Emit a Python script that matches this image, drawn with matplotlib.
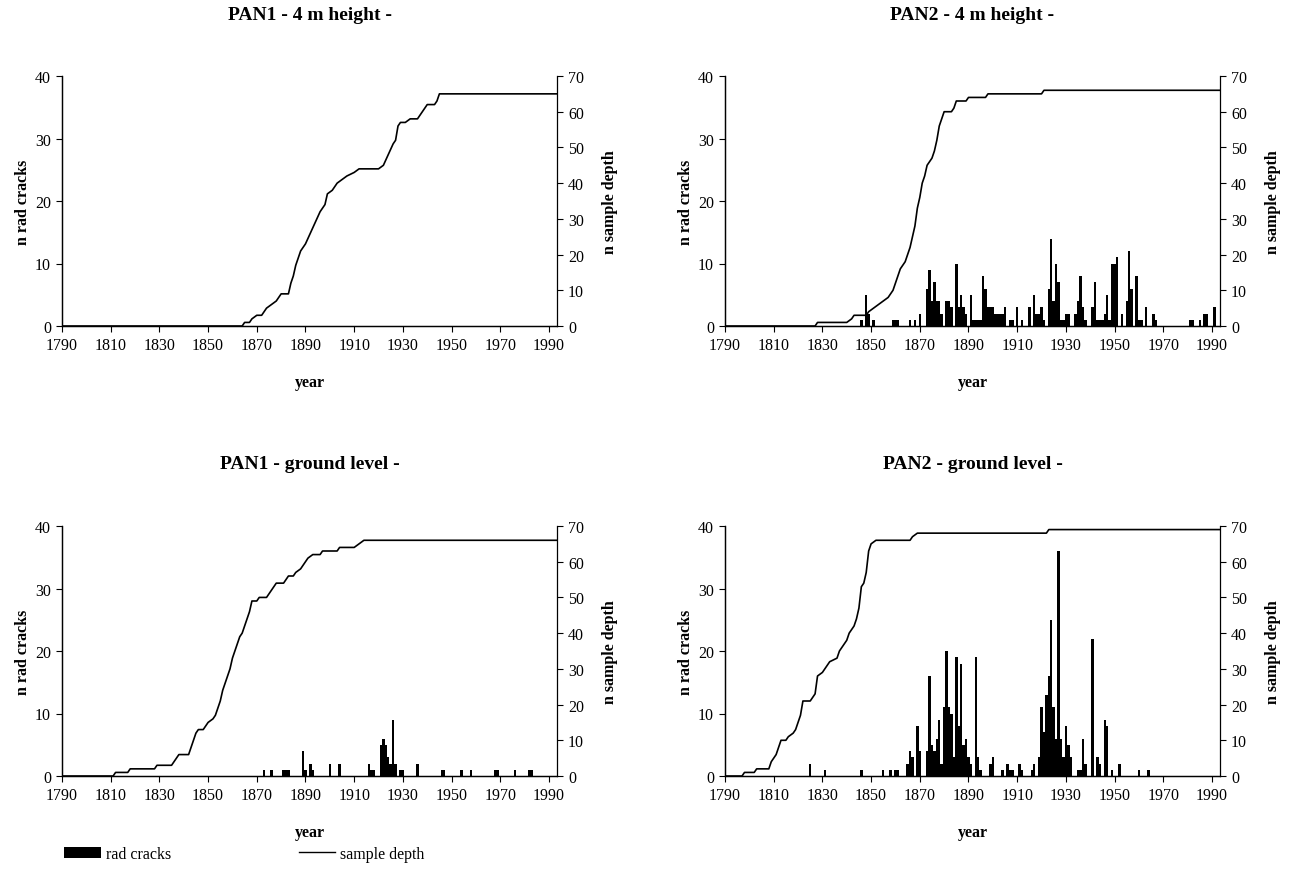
import numpy as np
import matplotlib.pyplot as plt
from matplotlib.patches import Patch
from matplotlib.lines import Line2D

plt.rcParams["font.family"] = ["Liberation Serif", "DejaVu Serif"]

# ---- PAN1 - 4 m height - (no cracks recorded)
pan1_4m_crack_years = []
pan1_4m_cracks = []
pan1_4m_depth_years = [1790, 1864, 1865, 1867, 1868, 1870, 1872, 1874, 1876, 1878, 1880, 1883,
                       1884, 1885, 1886, 1887, 1888, 1890, 1892, 1894, 1896, 1898, 1899, 1901,
                       1903, 1905, 1907, 1910, 1912, 1920, 1922, 1924, 1926, 1927, 1928, 1929,
                       1931, 1933, 1936, 1937, 1938, 1940, 1943, 1944, 1945, 1993.3]
pan1_4m_depth = [0, 0, 1, 1, 2, 3, 3, 5, 6, 7, 9, 9,
                 12, 14, 17, 19, 21, 23, 26, 29, 32, 34, 37, 38,
                 40, 41, 42, 43, 44, 44, 45, 48, 51, 52, 56, 57,
                 57, 58, 58, 59, 60, 62, 62, 63, 65, 65]

# ---- PAN2 - 4 m height -
pan2_4m_crack_years = [1846, 1848, 1849, 1851, 1859, 1860, 1861, 1866, 1868, 1870, 1873, 1874,
                       1875, 1876, 1877, 1878, 1879, 1881, 1882, 1883, 1885, 1886, 1887, 1888,
                       1889, 1891, 1892, 1893, 1894, 1895, 1896, 1897, 1898, 1899, 1900, 1901,
                       1902, 1903, 1904, 1905, 1907, 1908, 1910, 1912, 1915, 1917, 1918, 1919,
                       1920, 1921, 1923, 1924, 1925, 1926, 1927, 1928, 1929, 1930, 1931, 1934,
                       1935, 1936, 1937, 1938, 1941, 1942, 1943, 1944, 1945, 1946, 1947, 1948,
                       1949, 1950, 1951, 1953, 1955, 1956, 1957, 1959, 1960, 1961, 1963, 1966,
                       1967, 1981, 1982, 1985, 1987, 1988, 1991]
pan2_4m_cracks = [1, 5, 2, 1, 1, 1, 1, 1, 1, 2, 6, 9,
                  4, 7, 4, 4, 2, 4, 4, 3, 10, 3, 5, 3,
                  2, 5, 1, 1, 1, 1, 8, 6, 3, 3, 3, 2,
                  2, 2, 2, 3, 1, 1, 3, 1, 3, 5, 2, 2,
                  3, 1, 6, 14, 4, 10, 7, 1, 1, 2, 2, 2,
                  4, 8, 3, 1, 3, 7, 1, 1, 1, 2, 5, 1,
                  10, 10, 11, 2, 4, 12, 6, 8, 1, 1, 3, 2,
                  1, 1, 1, 1, 2, 2, 3]
pan2_4m_depth_years = [1790, 1827, 1828, 1840, 1842, 1843, 1848, 1849, 1851, 1853, 1855, 1857,
                       1859, 1860, 1862, 1864, 1866, 1867, 1868, 1869, 1870, 1871, 1872, 1873,
                       1875, 1876, 1877, 1878, 1879, 1880, 1883, 1884, 1885, 1889, 1890, 1897,
                       1898, 1920, 1921, 1993.3]
pan2_4m_depth = [0, 0, 1, 1, 2, 3, 3, 4, 5, 6, 7, 8,
                 10, 12, 16, 18, 22, 25, 28, 33, 36, 40, 42, 45,
                 47, 49, 52, 56, 58, 60, 60, 61, 63, 63, 64, 64,
                 65, 65, 66, 66]

# ---- PAN1 - ground level -
pan1_gl_crack_years = [1873, 1876, 1881, 1882, 1883, 1889, 1890, 1892, 1893, 1900, 1904, 1916,
                       1917, 1918, 1921, 1922, 1923, 1924, 1925, 1926, 1927, 1929, 1930, 1936,
                       1946, 1947, 1954, 1958, 1968, 1969, 1976, 1982, 1983]
pan1_gl_cracks = [1, 1, 1, 1, 1, 4, 1, 2, 1, 2, 2, 2,
                  1, 1, 5, 6, 5, 3, 2, 9, 2, 1, 1, 2,
                  1, 1, 1, 1, 1, 1, 1, 1, 1]
pan1_gl_depth_years = [1790, 1811, 1812, 1817, 1818, 1828, 1829, 1835, 1836, 1837, 1838, 1842,
                       1843, 1844, 1845, 1846, 1848, 1849, 1850, 1852, 1853, 1854, 1855, 1856,
                       1857, 1858, 1859, 1860, 1861, 1862, 1863, 1864, 1865, 1866, 1867, 1868,
                       1870, 1871, 1874, 1875, 1876, 1877, 1878, 1881, 1882, 1883, 1885, 1886,
                       1888, 1889, 1890, 1891, 1893, 1896, 1897, 1903, 1904, 1910, 1912, 1914,
                       1993.3]
pan1_gl_depth = [0, 0, 1, 1, 2, 2, 3, 3, 4, 5, 6, 6,
                 8, 10, 12, 13, 13, 14, 15, 16, 17, 19, 21, 24,
                 26, 28, 30, 33, 35, 37, 39, 40, 42, 44, 46, 49,
                 49, 50, 50, 51, 52, 53, 54, 54, 55, 56, 56, 57,
                 58, 59, 60, 61, 62, 62, 63, 63, 64, 64, 65, 66,
                 66]

# ---- PAN2 - ground level -
pan2_gl_crack_years = [1825, 1831, 1846, 1855, 1858, 1860, 1861, 1865, 1866, 1867, 1869, 1870,
                       1873, 1874, 1875, 1876, 1877, 1878, 1879, 1880, 1881, 1882, 1883, 1884,
                       1885, 1886, 1887, 1888, 1889, 1890, 1891, 1893, 1894, 1895, 1899, 1900,
                       1904, 1906, 1907, 1908, 1911, 1912, 1916, 1917, 1919, 1920, 1921, 1922,
                       1923, 1924, 1925, 1926, 1927, 1928, 1929, 1930, 1931, 1932, 1935, 1936,
                       1937, 1938, 1941, 1943, 1944, 1946, 1947, 1949, 1952, 1960, 1964]
pan2_gl_cracks = [2, 1, 1, 1, 1, 1, 1, 2, 4, 3, 8, 4,
                  4, 16, 5, 4, 6, 9, 2, 11, 20, 11, 10, 3,
                  19, 8, 18, 5, 6, 3, 2, 19, 3, 1, 2, 3,
                  1, 2, 1, 1, 2, 1, 1, 2, 3, 11, 7, 13,
                  16, 25, 11, 6, 36, 6, 3, 8, 5, 3, 1, 1,
                  6, 2, 22, 3, 2, 9, 8, 1, 2, 1, 1]
pan2_gl_depth_years = [1790, 1797, 1798, 1802, 1803, 1808, 1809, 1810, 1811, 1812, 1813, 1815,
                       1816, 1818, 1819, 1820, 1821, 1822, 1825, 1826, 1827, 1828, 1830, 1831,
                       1832, 1833, 1836, 1837, 1838, 1840, 1841, 1843, 1844, 1845, 1846, 1847,
                       1848, 1849, 1850, 1852, 1866, 1867, 1869, 1922, 1923, 1993.3]
pan2_gl_depth = [0, 0, 1, 1, 2, 2, 4, 5, 6, 8, 10, 10,
                 11, 12, 13, 15, 17, 21, 21, 22, 23, 28, 29, 30,
                 31, 32, 33, 35, 36, 38, 40, 42, 44, 47, 53, 54,
                 57, 63, 65, 66, 66, 67, 68, 68, 69, 69]

panels = [
    ("PAN1 - 4 m height -", pan1_4m_crack_years, pan1_4m_cracks, pan1_4m_depth_years, pan1_4m_depth),
    ("PAN2 - 4 m height -", pan2_4m_crack_years, pan2_4m_cracks, pan2_4m_depth_years, pan2_4m_depth),
    ("PAN1 - ground level -", pan1_gl_crack_years, pan1_gl_cracks, pan1_gl_depth_years, pan1_gl_depth),
    ("PAN2 - ground level -", pan2_gl_crack_years, pan2_gl_cracks, pan2_gl_depth_years, pan2_gl_depth),
]

W, H = 1289, 895
fig = plt.figure(figsize=(W / 100, H / 100), dpi=100)

# pixel positions of each plot box (left, top)
boxes = [(62, 77), (725, 77), (62, 527), (725, 527)]
bw, bh = 495, 250

for (title, cy, cv, dy, dv), (x0, y0) in zip(panels, boxes):
    ax = fig.add_axes([x0 / W, 1 - (y0 + bh) / H, bw / W, bh / H])
    ax2 = ax.twinx()
    ax.bar(cy, cv, width=1.0, color="black", linewidth=0)
    ax2.plot(dy, dv, color="black", linewidth=1.2)

    ax.set_xlim(1790, 1993.3)
    ax.set_ylim(0, 40)
    ax2.set_ylim(0, 70)
    ax.set_xticks(np.arange(1790, 1991, 20))
    ax.set_yticks(np.arange(0, 41, 10))
    ax2.set_yticks(np.arange(0, 71, 10))

    for a in (ax, ax2):
        a.spines["top"].set_visible(False)
        for s in a.spines.values():
            s.set_linewidth(0.9)
        a.tick_params(direction="out", length=4, width=0.8, labelsize=11.5, pad=4)
    ax.spines["right"].set_visible(False)

    ax.set_xlabel("year", fontsize=11.5, fontweight="bold", labelpad=15)
    ax.set_ylabel("n rad cracks", fontsize=11.5, fontweight="bold", labelpad=3)
    ax2.set_ylabel("n sample depth", fontsize=11.5, fontweight="bold", labelpad=13)

    fig.text((x0 + bw / 2) / W, 1 - (y0 - 62) / H, title, ha="center", va="center",
             fontsize=14, fontweight="bold")

handles = [Patch(facecolor="black", edgecolor="none"), Line2D([0], [0], color="black", linewidth=1.0)]
fig.legend(handles, ["rad cracks", "sample depth"], loc="center left",
           bbox_to_anchor=(64 / W, 1 - 855 / H), ncol=2, frameon=False, fontsize=11.5,
           handlelength=2.3, handletextpad=0.3, columnspacing=8.0,
           borderaxespad=0, borderpad=0)

fig.savefig("out.png", dpi=100)
